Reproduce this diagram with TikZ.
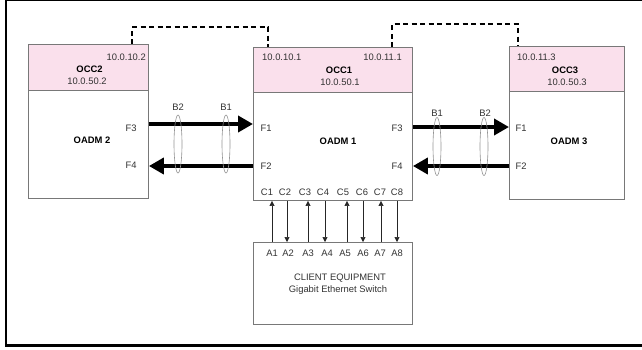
\documentclass[tikz,border=0pt]{standalone}
\usepackage{fontspec}
\setmainfont{Liberation Sans}
\usetikzlibrary{arrows.meta,shapes.geometric}
\definecolor{occpink}{RGB}{250,224,236}
\definecolor{boxgray}{RGB}{120,120,120}
\begin{document}
\begin{tikzpicture}[x=1pt,y=-1pt,
  every node/.style={font=\fontsize{9.4}{11}\selectfont, text=black!80, inner sep=0pt},
  occbox/.style={draw=boxgray, line width=0.9pt, fill=occpink, anchor=north west, minimum height=#1},
  bodybox/.style={draw=boxgray, line width=0.9pt, fill=white, anchor=north west, minimum height=108pt},
  bold/.style={font=\fontsize{9.4}{11}\selectfont\bfseries, text=black},
  fiber/.style={draw=boxgray!80, line width=0.6pt, ellipse, minimum width=8pt, minimum height=58pt},
  bigarrow/.style={line width=4.5pt, -{Triangle[length=15pt,width=16pt]}},
  smallarrow/.style={line width=0.6pt, black!85, -{Triangle[length=5pt,width=5pt]}},
  dashline/.style={line width=1.3pt, dash pattern=on 5pt off 3.5pt}]
\useasboundingbox (0,0) rectangle (642,349);
% frame
\draw[line width=1.5pt] (642,0.7) -- (6,0.7);
\draw[line width=2.5pt] (6,0) -- (6,345.5) -- (642,345.5);

% OADM 2
\node[occbox=46pt, minimum width=120pt] (occ2) at (28,44) {};
\node[bodybox, minimum width=120pt] (oadm2) at (28,90) {};
% OADM 1
\node[occbox=45pt, minimum width=159pt] (occ1) at (253,47) {};
\node[bodybox, minimum width=159pt] (oadm1) at (253,92) {};
% OADM 3
\node[occbox=45pt, minimum width=115pt] (occ3) at (509,46) {};
\node[bodybox, minimum width=115pt] (oadm3) at (509,91) {};
% client
\node[draw=boxgray, line width=0.9pt, anchor=north west, minimum width=159pt, minimum height=82pt] (client) at (253,242) {};

% OCC texts
\node[anchor=east] (ip2a) at (146,57) {10.0.10.2};
\node[bold] (occ2t) at (89.5,69.5) {OCC2};
\node (ip2b) at (87,81.5) {10.0.50.2};
\node[anchor=west] (ip1a) at (262,57) {10.0.10.1};
\node[anchor=east] (ip1b) at (402,57) {10.0.11.1};
\node[bold] (occ1t) at (339,70) {OCC1};
\node (ip1c) at (340,82) {10.0.50.1};
\node[anchor=west] (ip3a) at (517,57.5) {10.0.11.3};
\node[bold] (occ3t) at (565,70) {OCC3};
\node (ip3b) at (567,82) {10.0.50.3};

% OADM texts
\node[bold] (o2t) at (92,140) {OADM 2};
\node[bold] (o1t) at (338,141) {OADM 1};
\node[bold] (o3t) at (569,141) {OADM 3};
\node (l2f3) at (131,128) {F3};
\node (l2f4) at (131,165) {F4};
\node (l1f1) at (266,128) {F1};
\node (l1f2) at (266,166) {F2};
\node (l1f3) at (397,128) {F3};
\node (l1f4) at (397,166) {F4};
\node (l3f1) at (521,128) {F1};
\node (l3f2) at (521,166) {F2};

% dashed control links
\draw[dashline] ([xshift=104pt]occ2.north west) |- ([xshift=15pt,yshift=20pt]occ1.north west) -- ([xshift=15pt]occ1.north west);
\draw[dashline] ([xshift=139pt]occ1.north west) |- ([xshift=9pt,yshift=22pt]occ3.north west) -- ([xshift=9pt]occ3.north west);

% fibers
\coordinate (yL1) at (0,124);
\coordinate (yL2) at (0,166);
\coordinate (yR1) at (0,127);
\coordinate (yR2) at (0,166);
\draw[bigarrow] (oadm2.east |- yL1) -- (oadm1.west |- yL1);
\draw[bigarrow] (oadm1.west |- yL2) -- (oadm2.east |- yL2);
\draw[bigarrow] (oadm1.east |- yR1) -- (oadm3.west |- yR1);
\draw[bigarrow] (oadm3.west |- yR2) -- (oadm1.east |- yR2);

\node[fiber] (eb2l) at (178,144) {};
\node[fiber] (eb1l) at (226,144) {};
\node[fiber] (eb1r) at (437,146.5) {};
\node[fiber] (eb2r) at (484,146.5) {};
\node (b2l) at (178,107) {B2};
\node (b1l) at (226,107) {B1};
\node (b1r) at (437,113) {B1};
\node (b2r) at (485,113) {B2};

% client ports
\foreach \i/\x in {1/272,2/287,3/308,4/325,5/347,6/363,7/381,8/397}{
  \coordinate (p\i) at (\x,0);
}
\foreach \i/\x in {1/267,2/285,3/305,4/323,5/343,6/362,7/380,8/397}{
  \node (c\i) at (\x,192) {C\i};
}
\foreach \i/\x in {1/272,2/288,3/308,4/327,5/345,6/363,7/380,8/397}{
  \node (a\i) at (\x,253) {A\i};
}
\foreach \i in {1,3,5,7}{
  \draw[smallarrow] (client.north -| p\i) -- (oadm1.south -| p\i);
}
\foreach \i in {2,4,6,8}{
  \draw[smallarrow] (oadm1.south -| p\i) -- (client.north -| p\i);
}
\node (cl1) at (340,278) {CLIENT EQUIPMENT};
\node (cl2) at (338,290) {Gigabit Ethernet Switch};
\end{tikzpicture}
\end{document}
